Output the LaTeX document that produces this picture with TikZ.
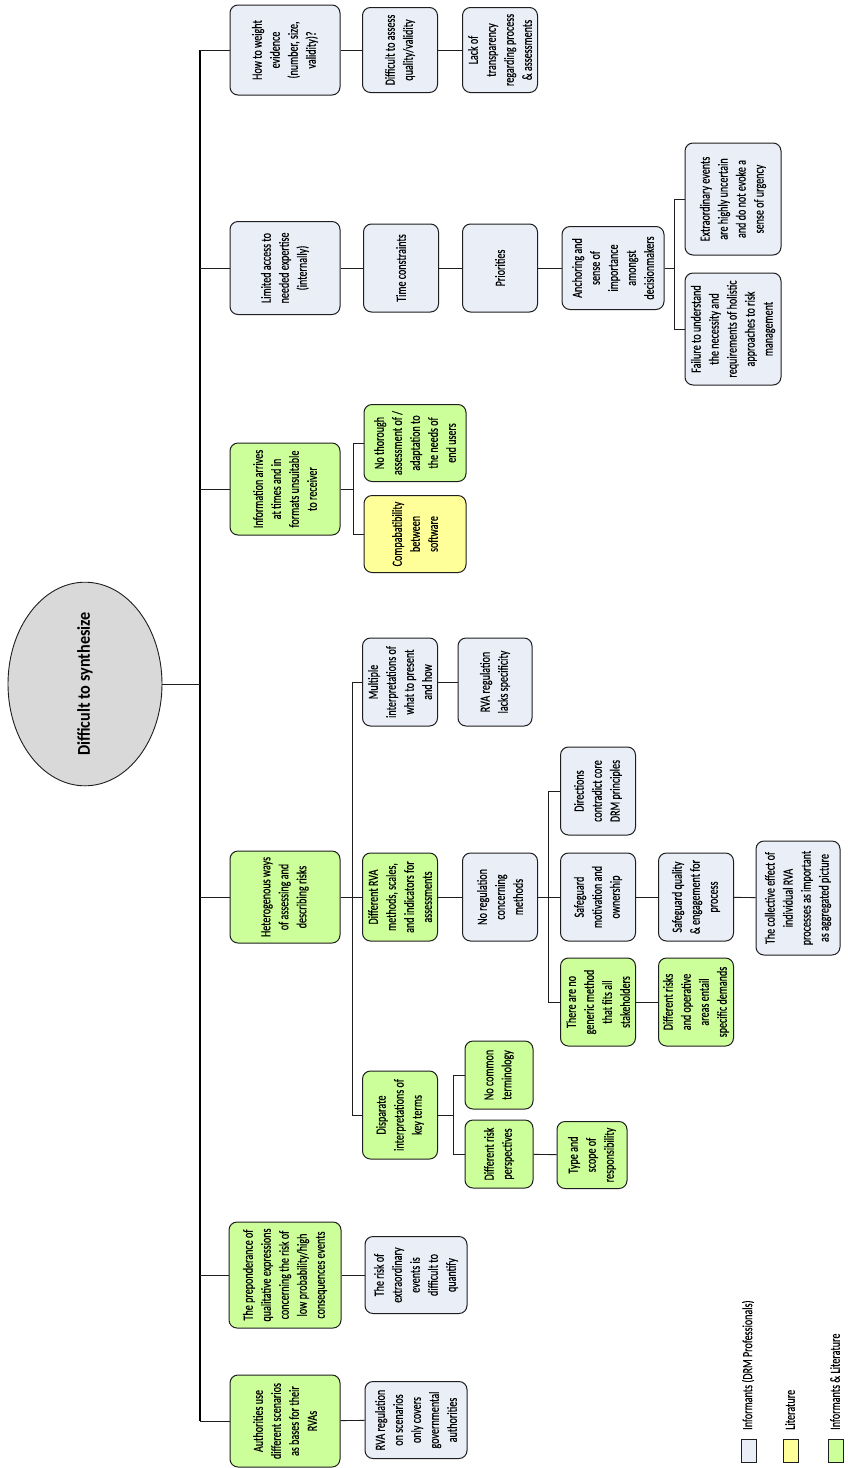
\documentclass[tikz,border=0pt]{standalone}
\usepackage{fontspec}
\setmainfont{Carlito}
\newfontfamily\boxfam{Carlito}[FakeStretch=0.72,FakeBold=0.4]
\newfontfamily\rootfam{Carlito}[FakeStretch=0.9]
\usetikzlibrary{shapes.geometric}
\definecolor{bluefill}{RGB}{233,238,247}
\definecolor{greenfill}{RGB}{204,255,153}
\definecolor{yellowfill}{RGB}{255,255,153}
\definecolor{rootfill}{RGB}{217,217,217}
\definecolor{edgecol}{RGB}{30,30,30}
\tikzset{
  box/.style={draw=edgecol, rounded corners=8pt, rotate=90, align=center,
    inner sep=1pt, line width=1pt, font=\boxfam\fontsize{14}{18}\selectfont},
  sz/.style 2 args={minimum height=#1pt, minimum width=#2pt},
  bl/.style={box, fill=bluefill},
  gr/.style={box, fill=greenfill},
  ye/.style={box, fill=yellowfill},
  conn/.style={draw=edgecol, line width=0.9pt},
  trunk/.style={draw=black, line width=1.3pt},
  legbox/.style={draw=edgecol, line width=0.8pt, minimum width=15pt, minimum height=23pt, inner sep=0pt},
  legtext/.style={rotate=90, anchor=west, inner sep=0pt, font=\boxfam\fontsize{14}{18}\selectfont}
}
\begin{document}
\begin{tikzpicture}[x=1pt,y=-1pt]
\useasboundingbox (0,0) rectangle (847,1468);
\fill[white] (0,0) rectangle (847,1468);

% root
\node[ellipse, draw=edgecol, line width=0.9pt, fill=rootfill, rotate=90,
  minimum width=188pt, minimum height=154pt, inner sep=0pt,
  font=\rootfam\fontsize{18}{20}\selectfont\bfseries] (root) at (85,684) {Difficult to synthesize};

% level 1
\node[bl, sz={110}{90}] (weight) at (285,50) {How to weight\\evidence\\(number, size,\\validity)?};
\node[bl, sz={110}{93}] (limited) at (285,268) {Limited access to\\needed expertise\\(internally)};
\node[gr, sz={110}{92}] (info) at (285,489) {Information arrives\\at times and in\\formats unsuitable\\to receiver};
\node[gr, sz={110}{92}] (hetero) at (285,897) {Heterogenous ways\\of assessing and\\describing risks};
\node[gr, sz={112}{106}] (prepon) at (285,1275) {The preponderance of\\qualitative expressions\\concerning the risk of\\low probability/high\\consequences events};
\node[gr, sz={110}{92}] (author) at (285,1421) {Authorities use\\different scenarios\\as bases for their\\RVAs};

% branch: weight
\node[bl, sz={75}{85}] (assess) at (400,50) {Difficult to assess\\quality/validity};
\node[bl, sz={75}{85}] (transp) at (500,50) {Lack of\\transparency\\regarding process\\\& assessments};

% branch: limited
\node[bl, sz={75}{88}] (time) at (401,268) {Time constraints};
\node[bl, sz={75}{88}] (prio) at (500,268) {Priorities};
\node[bl, sz={102}{83}] (anch) at (613,268) {Anchoring and\\sense of\\importance\\amongst\\decisionmakers};
\node[bl, sz={96}{112}] (extra) at (733,199) {Extraordinary events\\are highly uncertain\\and do not evoke a\\sense of urgency};
\node[bl, sz={96}{112}] (fail) at (733,329) {Failure to understand\\the necessity and\\requirements of holistic\\approaches to risk\\management};

% branch: info
\node[gr, sz={102}{77}] (nothor) at (415,443) {No thorough\\assessment of /\\adaptation to\\the needs of\\end users};
\node[ye, sz={102}{77}] (compat) at (415,534) {Compabatibility\\between\\software};

% branch: hetero
\node[bl, sz={75}{88}] (multi) at (400,682) {Multiple\\interpretations of\\what to present\\and how};
\node[bl, sz={74}{88}] (lacks) at (495,682) {RVA regulation\\lacks specificity};
\node[gr, sz={75}{88}] (diffrva) at (400,897) {Different RVA\\methods, scales,\\and indicators for\\assessments};
\node[bl, sz={75}{88}] (noreg) at (500,897) {No regulation\\concerning\\methods};
\node[bl, sz={75}{88}] (direc) at (598,791) {Directions\\contradict core\\DRM principles};
\node[bl, sz={75}{88}] (safe1) at (598,897) {Safeguard\\motivation and\\ownership};
\node[bl, sz={75}{88}] (safe2) at (696,897) {Safeguard quality\\\& engagement for\\process};
\node[bl, sz={84}{114}] (collect) at (798,898) {The collective effect of\\individual RVA\\processes as important\\as aggregated picture};
\node[gr, sz={75}{88}] (generic) at (598,1002) {There are no\\generic method\\that fits all\\stakeholders};
\node[gr, sz={75}{88}] (diffrisk) at (696,1002) {Different risks\\and operative\\areas entail\\specific demands};
\node[gr, sz={75}{88}] (disp) at (400,1115) {Disparate\\interpretations of\\key terms};
\node[gr, sz={68}{68}] (nocom) at (499,1075) {No common\\terminology};
\node[gr, sz={68}{68}] (riskp) at (499,1154) {Different risk\\perspectives};
\node[gr, sz={70}{67}] (typesc) at (592,1155) {Type and\\scope of\\responsibility};

% branch: preponderance / authorities
\node[bl, sz={102}{77}] (quant) at (416,1275) {The risk of\\extraordinary\\events is\\difficult to\\quantify};
\node[bl, sz={102}{77}] (scen) at (416,1420) {RVA regulation\\on scenarios\\only covers\\governmental\\authorities};

% trunk
\coordinate (T0) at (200,684);
\coordinate (T1) at (200,50);
\coordinate (T2) at (200,268);
\coordinate (T3) at (200,489);
\coordinate (T4) at (200,897);
\coordinate (T5) at (200,1275);
\coordinate (T6) at (200,1421);
\draw[trunk] (T1) -- (T6);
\draw[conn] (root) -- (T0);
\draw[conn] (T1) -- (weight);
\draw[conn] (T2) -- (limited);
\draw[conn] (T3) -- (info);
\draw[conn] (T4) -- (hetero);
\draw[conn] (T5) -- (prepon);
\draw[conn] (T6) -- (author);

% weight chain
\draw[conn] (weight) -- (assess);
\draw[conn] (assess) -- (transp);

% limited chain
\draw[conn] (limited) -- (time);
\draw[conn] (time) -- (prio);
\draw[conn] (prio) -- (anch);
\coordinate (jA) at (674,268);
\draw[conn] (anch) -- (jA);
\draw[conn] (jA |- extra) -- (jA |- fail);
\draw[conn] (jA |- extra) -- (extra);
\draw[conn] (jA |- fail) -- (fail);

% info
\coordinate (jI) at (353,489);
\draw[conn] (info) -- (jI);
\draw[conn] (jI |- nothor) -- (jI |- compat);
\draw[conn] (jI |- nothor) -- (nothor);
\draw[conn] (jI |- compat) -- (compat);

% hetero
\coordinate (jH) at (352,897);
\draw[conn] (hetero) -- (diffrva);
\draw[conn] (jH |- multi) -- (jH |- disp);
\draw[conn] (jH |- multi) -- (multi);
\draw[conn] (jH |- disp) -- (disp);
\draw[conn] (multi) -- (lacks);
\draw[conn] (diffrva) -- (noreg);
\coordinate (jN) at (548,897);
\draw[conn] (noreg) -- (safe1);
\draw[conn] (jN |- direc) -- (jN |- generic);
\draw[conn] (jN |- direc) -- (direc);
\draw[conn] (jN |- generic) -- (generic);
\draw[conn] (safe1) -- (safe2);
\draw[conn] (safe2) -- (collect);
\draw[conn] (generic) -- (diffrisk);
\coordinate (jD) at (453,1115);
\draw[conn] (disp) -- (jD);
\draw[conn] (jD |- nocom) -- (jD |- riskp);
\draw[conn] (jD |- nocom) -- (nocom);
\draw[conn] (jD |- riskp) -- (riskp);
\draw[conn] (riskp) -- (typesc);

% prepon / author
\draw[conn] (prepon) -- (quant);
\draw[conn] (author) -- (scen);

% legend
\node[legbox, fill=bluefill] (k1) at (748.5,1450.5) {};
\node[legbox, fill=yellowfill] (k2) at (790.5,1450.5) {};
\node[legbox, fill=greenfill] (k3) at (835.5,1450.5) {};
\node[legtext] (l1) at (748,1430) {Informants (DRM Professionals)};
\node[legtext] (l2) at (790,1430) {Literature};
\node[legtext] (l3) at (835,1430) {Informants \& Literature};
\end{tikzpicture}
\end{document}
